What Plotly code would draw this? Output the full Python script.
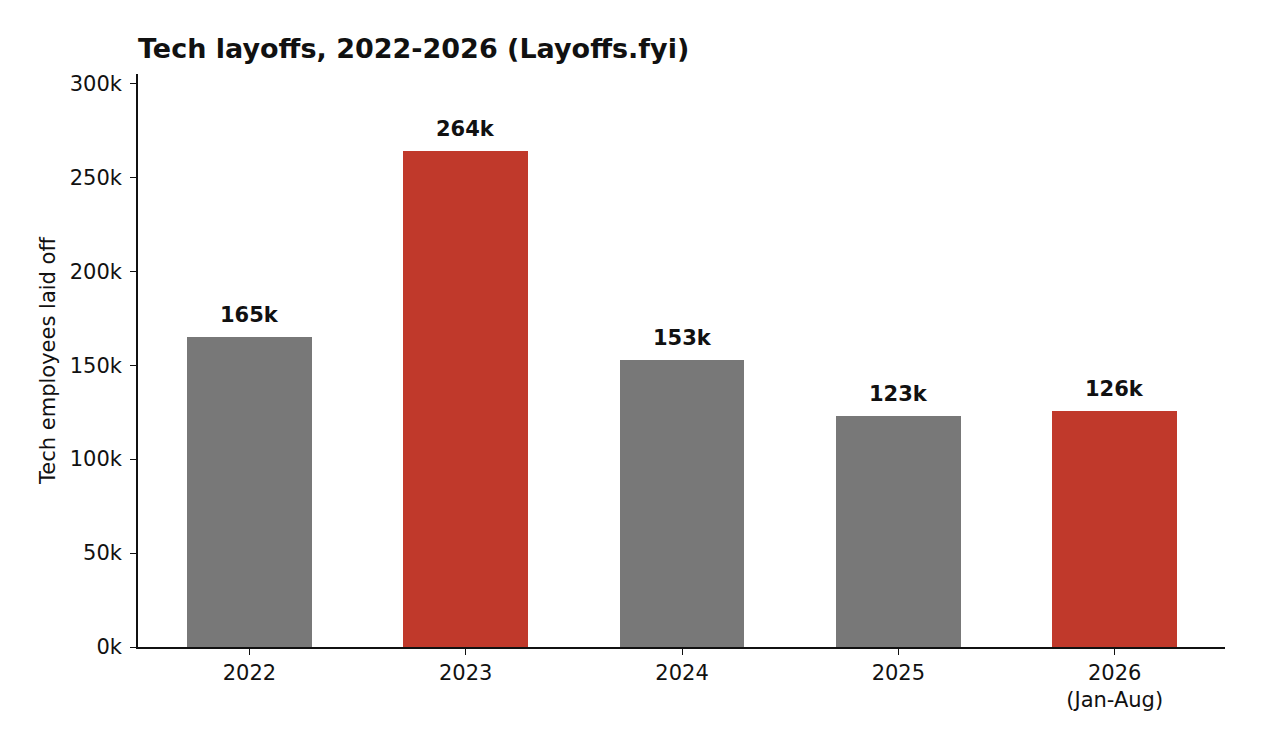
import plotly.graph_objects as go

categories = ["2022", "2023", "2024", "2025", "2026<br>(Jan-Aug)"]
layoffs = [165100, 264200, 152900, 122700, 125600]
highlight = [False, True, False, False, True]
y_tick_values = [0, 50000, 100000, 150000, 200000, 250000, 300000]
y_tick_labels = ["0k", "50k", "100k", "150k", "200k", "250k", "300k"]

GRAY = "#787878"
RED = "#c0392b"
TXT = "#111111"
FONT = "DejaVu Sans"

colors = [RED if h else GRAY for h in highlight]
labels = [f"{round(v / 1000):d}k" for v in layoffs]

fig = go.Figure()
fig.add_trace(go.Bar(
    x=categories, y=layoffs, marker=dict(color=colors, line=dict(width=0)),
    width=0.577, showlegend=False, hoverinfo="skip",
))
for i, (v, t) in enumerate(zip(layoffs, labels)):
    fig.add_annotation(x=i, y=v, xref="x", yref="y", text=f"<b>{t}</b>",
                       showarrow=False, yanchor="bottom", yshift=8,
                       font=dict(family=FONT, size=21, color=TXT))

fig.update_layout(
    width=1262, height=752,
    margin=dict(l=138, r=37, t=74, b=105),
    paper_bgcolor="white", plot_bgcolor="white",
    font=dict(family=FONT, color=TXT),
    title=dict(text="<b>Tech layoffs, 2022-2026 (Layoffs.fyi)</b>",
               x=138 / 1262, xref="container", xanchor="left",
               y=1 - 49 / 752, yref="container", yanchor="middle",
               font=dict(family=FONT, size=27, color=TXT)),
    bargap=0,
)
fig.update_xaxes(
    type="category", range=[-0.515, 4.51],
    showline=True, linecolor=TXT, linewidth=1.6,
    ticks="outside", ticklen=6, tickwidth=1.4, tickcolor=TXT,
    tickfont=dict(family=FONT, size=21, color=TXT),
    showgrid=False, zeroline=False, fixedrange=True,
)
fig.update_yaxes(
    range=[0, 305000],
    tickvals=y_tick_values, ticktext=y_tick_labels,
    showline=True, linecolor=TXT, linewidth=1.6,
    ticks="outside", ticklen=6, tickwidth=1.4, tickcolor=TXT,
    ticklabelstandoff=4,
    tickfont=dict(family=FONT, size=21, color=TXT),
    title=dict(text="Tech employees laid off", standoff=8,
               font=dict(family=FONT, size=21, color=TXT)),
    showgrid=False, zeroline=False, fixedrange=True,
)

fig.write_html("out.html", config={"displayModeBar": False},
               post_script="document.body.style.margin='0';")
